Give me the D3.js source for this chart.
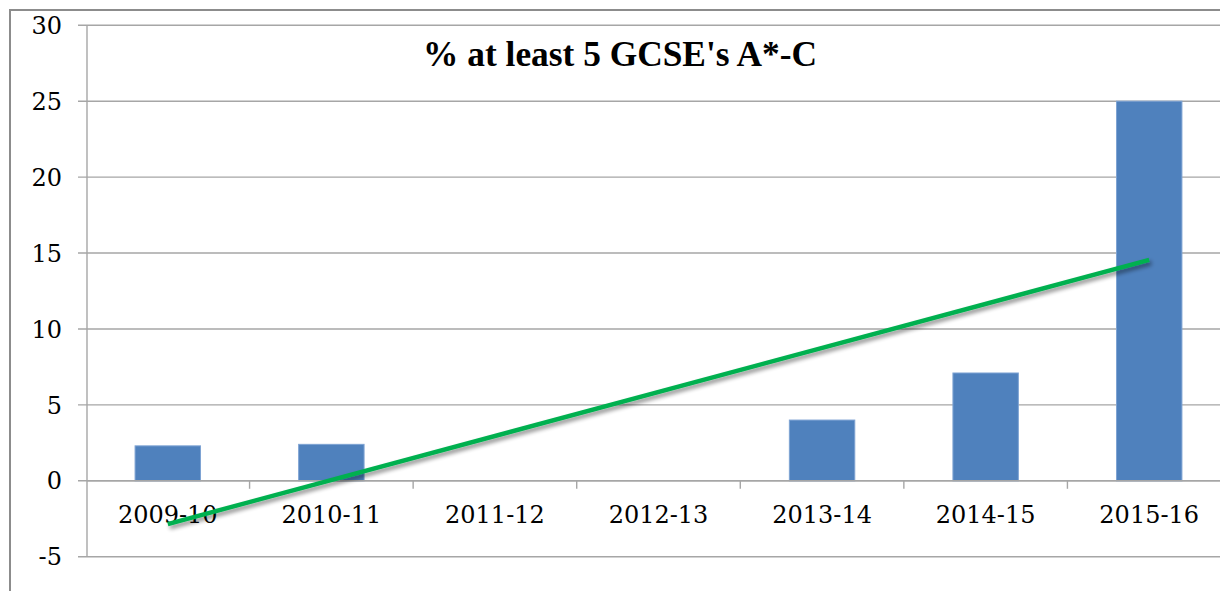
<!DOCTYPE html>
<html><head><meta charset="utf-8">
<script src="https://cdn.jsdelivr.net/npm/d3@7"></script>
<style>html,body{margin:0;padding:0;background:#fff;overflow:hidden}</style>
</head><body>
<svg id="chart" width="1220" height="591"></svg>
<script>
const categories = ["2009-10","2010-11","2011-12","2012-13","2013-14","2014-15","2015-16"];
const values = [2.3, 2.4, 0, 0, 4.0, 7.1, 25];
const yTicks = [-5, 0, 5, 10, 15, 20, 25, 30];
const trendValues = [-2.85, 14.55]; // linear trendline at first and last category
const title = "% at least 5 GCSE's A*-C";

const svg = d3.select("#chart");
const font = "'DejaVu Serif', serif";

// outer chart border (clipped at right/bottom like the reference)
svg.append("rect").attr("x",10).attr("y",10).attr("width",1240).attr("height",620)
  .attr("fill","#fff").attr("stroke","#8c8c8c").attr("stroke-width",2);

const x = d3.scaleBand().domain(categories).range([86, 1231]).paddingInner(0.6).paddingOuter(0.3);
const xc = d3.scaleBand().domain(categories).range([86, 1231]).padding(0);
const y = d3.scaleLinear().domain([-5, 30]).range([556.7, 25.3]);

// gridlines
svg.append("g").selectAll("line").data(yTicks).join("line")
  .attr("x1", 78).attr("x2", 1230)
  .attr("y1", d => y(d)).attr("y2", d => y(d))
  .attr("stroke","#a6a6a6").attr("stroke-width",1.4);

// y axis line
svg.append("line").attr("x1",87).attr("x2",87).attr("y1",y(30)).attr("y2",y(-5))
  .attr("stroke","#a6a6a6").attr("stroke-width",1.4);

// y labels
svg.append("g").selectAll("text").data(yTicks).join("text")
  .attr("x", 62).attr("y", d => y(d)).attr("dy","0.36em")
  .attr("text-anchor","end").attr("font-family",font).attr("font-size",24)
  .attr("fill","#000").text(d => d);

// bars
svg.append("g").selectAll("rect").data(values).join("rect")
  .attr("x",(d,i)=>x(categories[i])).attr("width",x.bandwidth())
  .attr("y",d=>y(Math.max(0,d))).attr("height",d=>Math.abs(y(d)-y(0)))
  .attr("fill","#4f81bd").attr("stroke","#7ea3d3").attr("stroke-width",1);

// category axis ticks (on zero line)
svg.append("g").selectAll("line").data(categories.slice(1)).join("line")
  .attr("x1",d=>xc(d)).attr("x2",d=>xc(d)).attr("y1",y(0)).attr("y2",y(0)+8)
  .attr("stroke","#a6a6a6").attr("stroke-width",1.4);
svg.append("line").attr("x1",87).attr("x2",1230).attr("y1",y(0)).attr("y2",y(0))
  .attr("stroke","#a6a6a6").attr("stroke-width",1.4);

// category labels
svg.append("g").selectAll("text").data(categories).join("text")
  .attr("x",d=>xc(d)+xc.bandwidth()/2).attr("y",523)
  .attr("text-anchor","middle").attr("font-family",font).attr("font-size",24)
  .attr("fill","#000").text(d=>d);

// trendline with soft shadow
const defs = svg.append("defs");
const f = defs.append("filter").attr("id","sh").attr("x","-10%").attr("y","-50%").attr("width","120%").attr("height","200%");
f.append("feGaussianBlur").attr("in","SourceAlpha").attr("stdDeviation",2);
f.append("feOffset").attr("dx",2).attr("dy",3).attr("result","ob");
f.append("feComponentTransfer").append("feFuncA").attr("type","linear").attr("slope",0.45);
const m = f.append("feMerge"); m.append("feMergeNode"); m.append("feMergeNode").attr("in","SourceGraphic");

const trendX = [categories[0], categories[categories.length-1]].map(c => x(c)+x.bandwidth()/2);
svg.append("path")
  .attr("d", d3.line()(trendValues.map((v,i)=>[trendX[i], y(v)])))
  .attr("stroke","#00b050").attr("stroke-width",4.5).attr("fill","none")
  .attr("filter","url(#sh)");

// title
const t = svg.append("text").attr("x",620).attr("y",66).attr("text-anchor","middle")
  .attr("font-family","'Liberation Serif', serif").attr("font-weight","bold").attr("font-size",30)
  .attr("fill","#000").text(title);
const w = t.node().getComputedTextLength();
t.attr("font-size", 30*394/w);
</script>
</body></html>
